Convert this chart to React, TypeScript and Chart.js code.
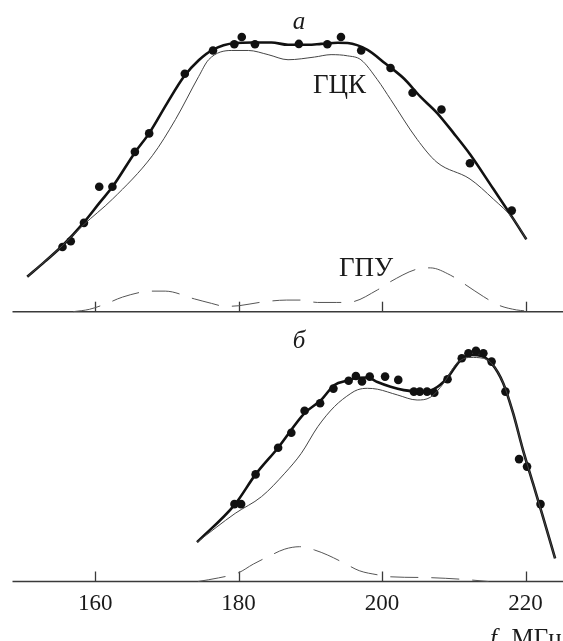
import React, { useEffect, useRef } from "react";
import { Chart, registerables } from "chart.js";
Chart.register(...registerables);

// ---- data (f in MHz, intensity in arbitrary units) ----
const tickValues = [160, 180, 200, 220];
const tickLabels = ["160", "180", "200", "220"];

// panel а
const topDotsF = [155.45, 156.6, 158.44, 160.57, 162.41, 165.54, 167.53, 172.5, 176.43, 179.4, 180.44, 182.28, 188.4, 192.37, 194.27, 197.09, 201.18, 204.25, 208.28, 212.25, 218.08];
const topDotsV = [21.7, 23.6, 29.8, 41.9, 41.9, 53.6, 59.8, 79.8, 87.6, 89.7, 92.1, 89.7, 89.8, 89.7, 92.1, 87.6, 81.7, 73.4, 67.8, 49.8, 33.9];
const topFitF = [150.53, 152.98, 155.47, 158.38, 160.6, 162.39, 165.58, 167.52, 170.0, 172.36, 174.44, 176.37, 179.52, 182.05, 184.58, 186.89, 189.66, 191.5, 193.81, 195.2, 197.97, 200.46, 203.04, 205.3, 207.65, 210.0, 212.26, 215.5, 218.27, 220.11];
const topFitV = [11.7, 16.8, 22.2, 29.8, 36.5, 41.8, 53.5, 59.8, 69.8, 78.8, 84.3, 87.8, 90.1, 90.3, 90.3, 89.5, 89.5, 89.8, 90.2, 90.1, 87.8, 83.2, 78.2, 72.2, 66.7, 59.8, 52.8, 41.2, 31.2, 24.3];
const topFccF = [150.53, 155.47, 158.28, 162.44, 167.97, 171.21, 174.44, 175.82, 179.05, 181.36, 184.12, 186.89, 190.59, 192.89, 195.2, 197.04, 199.35, 201.19, 204.89, 207.65, 212.26, 215.5, 218.27, 220.11];
const topFccV = [11.7, 22.2, 28.9, 37.8, 52.3, 64.5, 78.9, 84.5, 87.6, 87.6, 86.2, 84.5, 85.4, 86.2, 85.8, 84.5, 77.8, 71.2, 57.8, 50.1, 44.5, 37.8, 31.2, 24.3];
const topHcpF = [156.91, 159.2, 161.67, 163.82, 167.88, 169.77, 173.83, 176.21, 178.12, 180.03, 182.88, 186.7, 188.61, 190.99, 193.61, 195.52, 199.35, 201.19, 204.89, 206.73, 209.5, 211.35, 214.12, 216.24, 218.73, 219.82];
const topHcpV = [0, 0.8, 2.8, 4.9, 6.9, 6.9, 4.3, 2.8, 1.8, 2.0, 3.1, 3.9, 3.9, 3.1, 3.1, 3.2, 7.3, 10.1, 14.3, 14.7, 12.3, 9.5, 5.1, 2.2, 0.6, 0.3];

// panel б
const botDotsF = [179.42, 180.35, 182.37, 185.51, 187.35, 189.2, 191.36, 193.22, 195.34, 196.35, 197.2, 198.28, 200.42, 202.26, 204.43, 205.26, 206.27, 207.28, 209.13, 211.11, 212.04, 213.09, 214.12, 215.27, 217.2, 219.1, 220.21, 222.09];
const botDotsV = [25.8, 25.8, 35.7, 44.6, 49.6, 56.9, 59.4, 64.3, 66.9, 68.5, 66.7, 68.3, 68.3, 67.2, 63.3, 63.3, 63.3, 62.9, 67.4, 74.4, 76.1, 76.9, 76.1, 73.3, 63.3, 40.8, 38.3, 25.8];
const botFitF = [174.2, 179.52, 182.37, 185.51, 189.2, 191.5, 193.36, 195.2, 196.58, 197.97, 199.35, 201.19, 203.04, 205.34, 207.2, 209.04, 210.88, 212.5, 213.88, 215.27, 216.89, 218.27, 219.65, 221.04, 222.42, 224.12];
const botFitV = [13.1, 25.8, 35.7, 44.6, 56.1, 60.5, 65.5, 67.0, 67.9, 68.0, 66.5, 64.9, 63.8, 63.3, 64.1, 67.7, 73.6, 75.5, 75.2, 72.7, 66.1, 56.1, 43.8, 32.7, 21.6, 7.7];
const botFccF = [174.2, 179.52, 183.2, 186.44, 188.73, 191.04, 193.36, 195.65, 196.58, 197.97, 199.35, 202.12, 204.89, 206.73, 208.58, 210.42, 212.26, 214.12, 215.27, 216.89, 218.27, 219.65, 221.04, 222.42, 224.12];
const botFccV = [13.1, 22.7, 28.3, 36.1, 42.7, 51.6, 58.3, 62.7, 63.9, 64.4, 64.1, 62.2, 60.5, 61.4, 66.1, 72.7, 74.7, 74.4, 72.7, 66.1, 56.1, 43.8, 32.7, 21.6, 7.7];
const botHcpF = [174.33, 177.2, 179.97, 182.05, 184.13, 186.44, 188.51, 190.59, 192.43, 194.74, 196.82, 199.43, 200.93, 206.4, 211.36, 214.84];
const botHcpV = [0, 1.2, 2.9, 5.8, 8.3, 10.8, 11.6, 10.5, 8.8, 6.1, 3.6, 2.2, 1.6, 1.3, 0.7, 0];

const X_MIN = 148.48;
const X_MAX = 232.57;
const CANVAS_W = 620;
const SERIF = "'Liberation Serif', 'DejaVu Serif', serif";

const pts = (f: number[], v: number[]) => f.map((x, i) => ({ x, y: v[i] }));

type Txt = { text: string; x: number; y: number; italic?: boolean; size: number; align?: CanvasTextAlign };

function buildChart(
  canvas: HTMLCanvasElement,
  opt: {
    dotsF: number[]; dotsV: number[]; fitF: number[]; fitV: number[]; fccF: number[]; fccV: number[];
    hcpF: number[]; hcpV: number[]; yMax: number; padTop: number; padBottom: number;
    showLabels: boolean; texts: Txt[];
  }
) {
  const axisPlugin = {
    id: "axisPlugin",
    beforeDatasetsDraw(chart: any) {
      const ctx = chart.ctx as CanvasRenderingContext2D;
      const xs = chart.scales.x;
      const ys = chart.scales.y;
      const y0 = ys.getPixelForValue(0);
      ctx.save();
      ctx.strokeStyle = "#3a3a3a";
      ctx.lineWidth = 1.6;
      ctx.beginPath();
      ctx.moveTo(chart.chartArea.left, y0);
      ctx.lineTo(chart.chartArea.right, y0);
      ctx.stroke();
      ctx.lineWidth = 1.3;
      tickValues.forEach((t) => {
        const px = Math.round(xs.getPixelForValue(t)) + 0.5;
        ctx.beginPath();
        ctx.moveTo(px, y0);
        ctx.lineTo(px, y0 - 10);
        ctx.stroke();
      });
      ctx.restore();
    },
    afterDraw(chart: any) {
      const ctx = chart.ctx as CanvasRenderingContext2D;
      const xs = chart.scales.x;
      const ys = chart.scales.y;
      const y0 = ys.getPixelForValue(0);
      ctx.save();
      ctx.fillStyle = "#1a1a1a";
      if (opt.showLabels) {
        ctx.font = `23px ${SERIF}`;
        ctx.textAlign = "center";
        ctx.textBaseline = "alphabetic";
        tickValues.forEach((t, i) => {
          ctx.fillText(tickLabels[i], xs.getPixelForValue(t), y0 + 28.5);
        });
      }
      opt.texts.forEach((t) => {
        ctx.font = `${t.italic ? "italic " : ""}${t.size}px ${SERIF}`;
        ctx.textAlign = t.align || "left";
        ctx.textBaseline = "alphabetic";
        ctx.fillText(t.text, t.x, t.y);
      });
      ctx.restore();
    },
  };

  const lineCommon = { showLine: true, pointRadius: 0, cubicInterpolationMode: "monotone", clip: false };

  return new Chart(canvas, {
    type: "scatter",
    data: {
      datasets: [
        {
          label: "ГПУ",
          data: pts(opt.hcpF, opt.hcpV),
          borderColor: "#555",
          borderWidth: 1,
          borderDash: [28, 13],
          ...lineCommon,
        } as any,
        {
          label: "ГЦК",
          data: pts(opt.fccF, opt.fccV),
          borderColor: "#444",
          borderWidth: 1,
          ...lineCommon,
        } as any,
        {
          label: "fit",
          data: pts(opt.fitF, opt.fitV),
          borderColor: "#111",
          borderWidth: 2.6,
          ...lineCommon,
        } as any,
        {
          label: "exp",
          data: pts(opt.dotsF, opt.dotsV),
          showLine: false,
          pointRadius: 4.3,
          pointBackgroundColor: "#111",
          pointBorderColor: "#111",
          pointBorderWidth: 0,
          clip: false,
        } as any,
      ],
    },
    options: {
      responsive: false,
      animation: false,
      devicePixelRatio: 1,
      layout: { padding: { left: 12.5, right: 0, top: opt.padTop, bottom: opt.padBottom } },
      plugins: { legend: { display: false }, tooltip: { enabled: false } },
      scales: {
        x: { type: "linear", min: X_MIN, max: X_MAX, display: false },
        y: { type: "linear", min: 0, max: opt.yMax, display: false },
      },
    },
    plugins: [axisPlugin],
  });
}

export default function App() {
  const topRef = useRef<HTMLCanvasElement>(null);
  const botRef = useRef<HTMLCanvasElement>(null);

  useEffect(() => {
    const c1 = buildChart(topRef.current!, {
      dotsF: topDotsF, dotsV: topDotsV, fitF: topFitF, fitV: topFitV, fccF: topFccF, fccV: topFccV,
      hcpF: topHcpF, hcpV: topHcpV, yMax: 100, padTop: 13.5, padBottom: 2.5, showLabels: false,
      texts: [
        { text: "а", x: 299, y: 28.5, italic: true, size: 25, align: "center" },
        { text: "ГЦК", x: 313, y: 93.3, size: 27 },
        { text: "ГПУ", x: 339, y: 275.5, size: 27 },
      ],
    });
    const c2 = buildChart(botRef.current!, {
      dotsF: botDotsF, dotsV: botDotsV, fitF: botFitF, fitV: botFitV, fccF: botFccF, fccV: botFccV,
      hcpF: botHcpF, hcpV: botHcpV, yMax: 85, padTop: 10.5, padBottom: 64.5, showLabels: true,
      texts: [
        { text: "б", x: 299, y: 32.3, italic: true, size: 25, align: "center" },
        { text: "f", x: 490, y: 329.5, italic: true, size: 25 },
        { text: ", МГц", x: 499, y: 329.5, size: 25 },
      ],
    });
    return () => {
      c1.destroy();
      c2.destroy();
    };
  }, []);

  return (
    <div style={{ position: "fixed", left: 0, top: 0, width: 563, height: 641, overflow: "hidden", background: "#fff" }}>
      <canvas ref={topRef} width={CANVAS_W} height={316} style={{ position: "absolute", left: 0, top: 0, width: CANVAS_W, height: 316 }} />
      <canvas ref={botRef} width={CANVAS_W} height={330} style={{ position: "absolute", left: 0, top: 316, width: CANVAS_W, height: 330 }} />
    </div>
  );
}
